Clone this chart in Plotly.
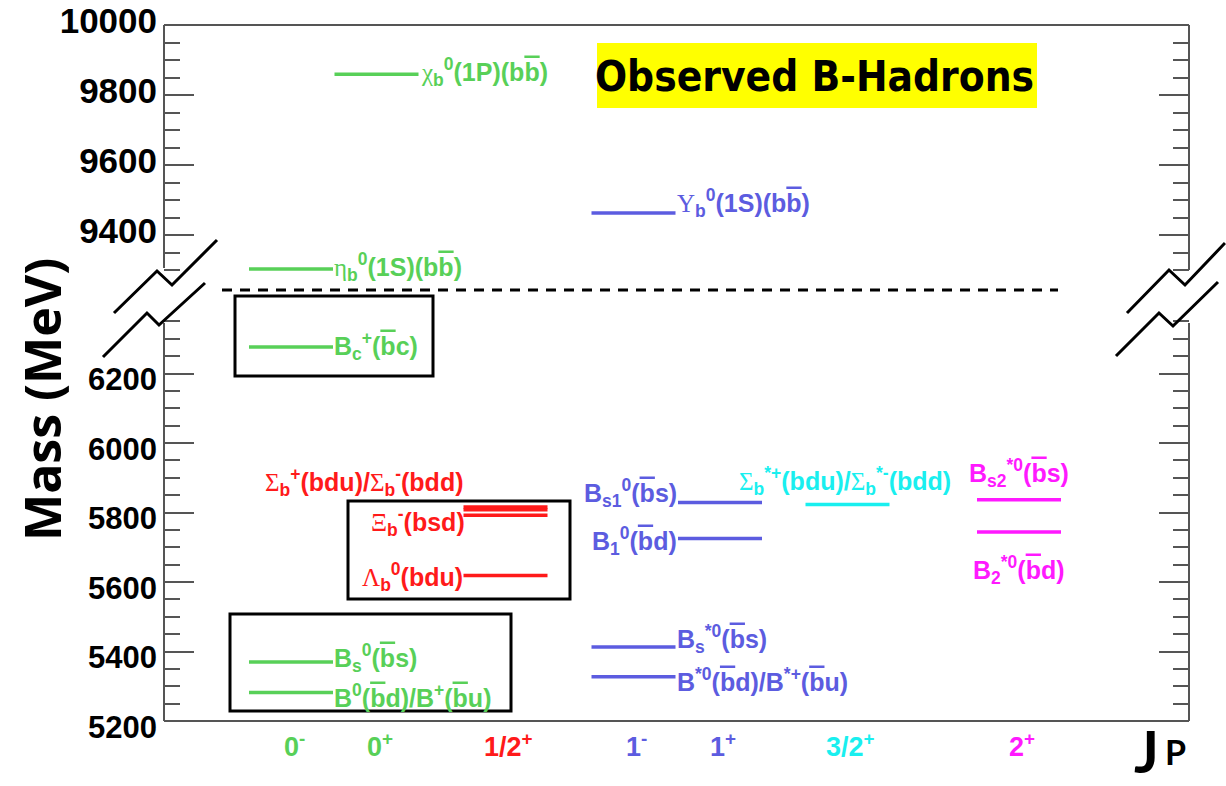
import plotly.graph_objects as go

# ---------------- data ----------------
jp_labels = ["0<sup>-</sup>", "0<sup>+</sup>", "1/2<sup>+</sup>", "1<sup>-</sup>",
             "1<sup>+</sup>", "3/2<sup>+</sup>", "2<sup>+</sup>"]
jp_pos = [1.27, 2.125, 3.415, 4.695, 5.56, 6.835, 8.55]
jp_colors = ["#58D058", "#58D058", "#FF1A1A", "#5C5CE0", "#5C5CE0", "#19EFEF", "#FF19FF"]

state_names = ["chi_b0(1P)", "eta_b(1S)", "B_c+", "B_s0", "B0/B+", "Lambda_b0", "Xi_b-",
               "Sigma_b+", "Sigma_b-", "Upsilon(1S)", "B_s*0", "B*0/B*+", "B_s1",
               "B_1", "Sigma_b*", "B_s2*", "B_2*"]
state_jp = [1, 0, 0, 0, 0, 2, 2, 2, 2, 3, 3, 3, 4, 4, 5, 6, 6]
state_mass = [9859, 9303, 6276, 5370, 5282, 5619, 5792, 5808, 5816, 9463, 5413, 5327,
              5829, 5725, 5823, 5837, 5744]

upper_ticks = [9400, 9600, 9800, 10000]
lower_ticks = [5200, 5400, 5600, 5800, 6000, 6200]

HALF = 0.42
BREAK_MASS = 9000


def ob(c):
    return f'<span style="text-decoration:overline">{c}</span>'


def gr(c):
    return f"<span style=\"font-family:'Liberation Serif';font-weight:normal\">{c}</span>"


state_text = {
    0: gr("χ") + "<sub>b</sub><sup>0</sup>(1P)(b" + ob("b") + ")",
    1: gr("η") + "<sub>b</sub><sup>0</sup>(1S)(b" + ob("b") + ")",
    2: "B<sub>c</sub><sup>+</sup>(" + ob("b") + "c)",
    3: "B<sub>s</sub><sup>0</sup>(" + ob("b") + "s)",
    4: "B<sup>0</sup>(" + ob("b") + "d)/B<sup>+</sup>(" + ob("b") + "u)",
    5: gr("Λ") + "<sub>b</sub><sup>0</sup>(bdu)",
    6: gr("Ξ") + "<sub>b</sub><sup>-</sup>(bsd)",
    8: gr("Σ") + "<sub>b</sub><sup>+</sup>(bdu)/" + gr("Σ") + "<sub>b</sub><sup>-</sup>(bdd)",
    9: gr("Υ") + "<sub>b</sub><sup>0</sup>(1S)(b" + ob("b") + ")",
    10: "B<sub>s</sub><sup>*0</sup>(" + ob("b") + "s)",
    11: "B<sup>*0</sup>(" + ob("b") + "d)/B<sup>*+</sup>(" + ob("b") + "u)",
    12: "B<sub>s1</sub><sup>0</sup>(" + ob("b") + "s)",
    13: "B<sub>1</sub><sup>0</sup>(" + ob("b") + "d)",
    14: gr("Σ") + "<sub>b</sub><sup>*+</sup>(bdu)/" + gr("Σ") + "<sub>b</sub><sup>*-</sup>(bdd)",
    15: "B<sub>s2</sub><sup>*0</sup>(" + ob("b") + "s)",
    16: "B<sub>2</sub><sup>*0</sup>(" + ob("b") + "d)",
}
# placement: side, xshift, yshift
state_place = {
    0: ("right", 1, 2), 1: ("right", 0, 2), 2: ("right", 0, 1), 3: ("right", 0, 4),
    4: ("right", 0, -3), 5: ("left", 0, -2), 6: ("left", 2, -7), 8: ("left", 0, 25),
    9: ("right", 0, 10), 10: ("right", 0, 8), 11: ("right", 0, -3), 12: ("left", 0, 9),
    13: ("left", 0, -2), 14: ("center", -3, 24), 15: ("center", 0, 27), 16: ("center", 0, -38),
}

# ---------------- figure ----------------
L, R, T, B = 164, 37, 25, 65
W, H = 1226, 786
PW, PH = W - L - R, H - T - B


def px(x):
    return (x - L) / PW


def py(y):
    return (H - B - y) / PH


fig = go.Figure()
for i, (nm, j, m) in enumerate(zip(state_names, state_jp, state_mass)):
    fig.add_trace(go.Scatter(
        x=[jp_pos[j] - HALF, jp_pos[j] + HALF], y=[m, m], mode="lines",
        line=dict(color=jp_colors[j], width=3.5), name=nm, showlegend=False,
        hoverinfo="name+y", yaxis="y2" if m > BREAK_MASS else "y"))

annotations = []
for i, txt in state_text.items():
    j = state_jp[i]
    m = state_mass[i]
    side, xs, ys = state_place[i]
    if side == "right":
        xx, anc = jp_pos[j] + HALF, "left"
    elif side == "left":
        xx, anc = jp_pos[j] - HALF, "right"
    else:
        xx, anc = jp_pos[j], "center"
    annotations.append(dict(
        x=xx, y=m, xref="x", yref="y2" if m > BREAK_MASS else "y", text=txt,
        showarrow=False, xanchor=anc, yanchor="middle", xshift=xs, yshift=ys,
        font=dict(family="Liberation Sans", size=25, color=jp_colors[j], weight="bold"),
        borderpad=0))

for lab, pos, col in zip(jp_labels, jp_pos, jp_colors):
    annotations.append(dict(
        x=pos, y=py(745), xref="x", yref="paper", text=lab, showarrow=False,
        xanchor="center", yanchor="middle", xshift=3,
        font=dict(family="Liberation Sans", size=27, color=col, weight="bold")))

annotations += [
    dict(x=px(814), y=py(76), xref="paper", yref="paper", text="Observed B-Hadrons",
         showarrow=False, xanchor="center", yanchor="middle",
         font=dict(family="DejaVu Sans Condensed, sans-serif",
                   size=42, color="black", weight="bold")),
    dict(x=px(42), y=py(400), xref="paper", yref="paper", text="Mass (MeV)",
         showarrow=False, textangle=-90, xanchor="center", yanchor="middle",
         font=dict(family="Open Sans", size=50, color="black", weight="bold")),
    dict(x=px(1146), y=py(786), xref="paper", yref="paper", text="J", showarrow=False,
         xanchor="center", yanchor="bottom", borderpad=0,
         font=dict(family="Lato", size=58, color="black", weight="bold")),
    dict(x=px(1164), y=py(730), xref="paper", yref="paper", text="P", showarrow=False,
         xanchor="left", yanchor="top", borderpad=0,
         font=dict(family="Lato", size=34, color="black", weight="bold")),
]

shapes = []
FR = dict(color="#555555", width=2)
# frame lines (with gaps at the axis break)
for seg in [((164, 25), (1189, 25)), ((164, 721), (1189, 721)),
            ((164, 25), (164, 268)), ((164, 323), (164, 721)),
            ((1189, 25), (1189, 270)), ((1189, 323), (1189, 721))]:
    (x0, y0), (x1, y1) = seg
    shapes.append(dict(type="line", xref="paper", yref="paper", x0=px(x0), y0=py(y0),
                       x1=px(x1), y1=py(y1), line=FR))


def path(pts):
    return "M " + " L ".join(f"{px(a):.5f},{py(b):.5f}" for a, b in pts)


for pts in [[(114, 313), (157, 271), (172, 285), (217, 240)],
            [(103, 357), (147, 313), (159, 325), (205, 283)],
            [(1127, 313), (1169, 270), (1185, 285), (1225, 243)],
            [(1116, 356), (1159, 313), (1173, 326), (1218, 282)]]:
    shapes.append(dict(type="path", xref="paper", yref="paper", path=path(pts),
                       line=dict(color="black", width=3)))

shapes.append(dict(type="line", xref="paper", yref="paper", x0=px(222), x1=px(1058),
                   y0=py(290), y1=py(290), line=dict(color="black", width=3, dash="10px,8px")))

for (x0, y0, x1, y1) in [(235, 296, 433, 376), (348, 501, 570, 599), (230, 614, 511, 711)]:
    shapes.append(dict(type="rect", xref="paper", yref="paper", x0=px(x0), x1=px(x1),
                       y0=py(y0), y1=py(y1), line=dict(color="black", width=3)))

shapes.append(dict(type="rect", xref="paper", yref="paper", x0=px(597), x1=px(1037),
                   y0=py(43), y1=py(108), fillcolor="#FFFF00", line=dict(width=0),
                   layer="below"))

up_bot, lo_top = 275, 310
up_rate, lo_rate = 0.35, 0.3475
yaxis_common = dict(showgrid=False, zeroline=False, showline=False, ticks="inside",
                    ticklen=30, tickwidth=2, tickcolor="#555555", mirror="ticks",
                    ticklabelstandoff=6, automargin=False,
                    minor=dict(ticks="inside", ticklen=16, tickwidth=2, tickcolor="#555555",
                               dtick=50, showgrid=False))

fig.update_layout(
    width=W, height=H, margin=dict(l=L, r=R, t=T, b=B),
    plot_bgcolor="white", paper_bgcolor="white", showlegend=False,
    xaxis=dict(range=[0, PW / 100], showgrid=False, zeroline=False, showline=False,
               showticklabels=False, ticks="", automargin=False),
    yaxis=dict(domain=[0, py(lo_top)], range=[5200, 5200 + (H - B - lo_top) / lo_rate],
               tickvals=lower_ticks, ticktext=[str(v) for v in lower_ticks],
               tickfont=dict(family="Liberation Sans", size=31, color="black", weight="bold"),
               ticklabelshift=6, **yaxis_common),
    yaxis2=dict(domain=[py(up_bot), 1], range=[10000 - (up_bot - T) / up_rate, 10000],
                anchor="x",
                tickvals=upper_ticks, ticktext=[str(v) for v in upper_ticks],
                tickfont=dict(family="Liberation Sans", size=35, color="black", weight="bold"),
                ticklabelshift=-4, **yaxis_common),
    annotations=annotations, shapes=shapes,
)

fig.write_html("out.html")
